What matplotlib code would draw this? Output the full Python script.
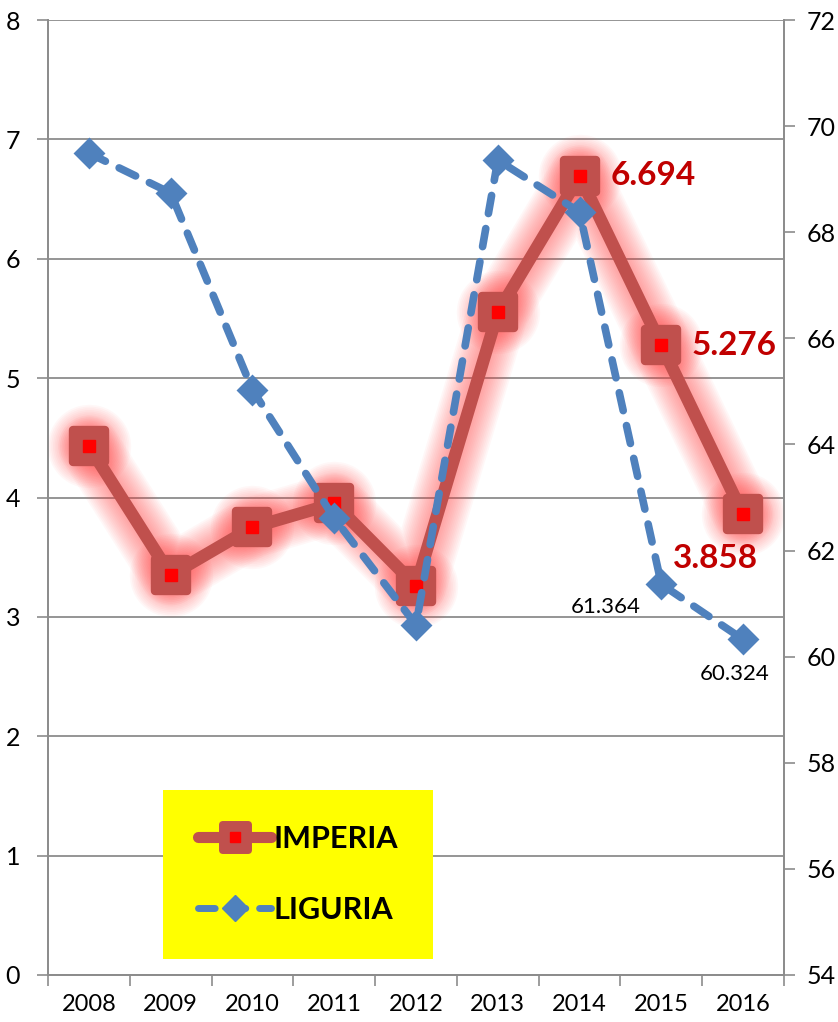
import matplotlib
import numpy as np

matplotlib.use("Agg")
import matplotlib.pyplot as plt
from matplotlib.legend_handler import HandlerTuple
from matplotlib.lines import Line2D
from matplotlib.markers import MarkerStyle

years = ["2008", "2009", "2010", "2011", "2012", "2013", "2014", "2015", "2016"]
imperia = [4.43, 3.35, 3.75, 3.95, 3.26, 5.55, 6.694, 5.276, 3.858]
liguria = [69.49, 68.74, 65.03, 62.61, 60.6, 69.36, 68.38, 61.364, 60.324]

RED_DARK = "#C0504D"
RED = "#FF0000"
BLUE = "#4F81BD"
GRID = "#8C8C8C"

plt.rcParams["font.family"] = ["Lato", "DejaVu Sans"]


def main() -> None:
    x = np.arange(len(years))
    fig = plt.figure(figsize=(8.38, 10.22), dpi=100)
    ax = fig.add_axes([0.0573, 0.046, 0.8783, 0.9344])
    ax2 = ax.twinx()

    sq_round = MarkerStyle("s", joinstyle="round")

    # soft glow around the IMPERIA series
    for lw in np.linspace(44, 12, 14):
        ax.plot(x, imperia, color="#FF4040", lw=lw, alpha=0.04, solid_capstyle="round",
                solid_joinstyle="round", marker="o", ms=lw + 16, mew=0, zorder=2)

    ax.plot(x, imperia, color=RED_DARK, lw=9, solid_joinstyle="round",
            solid_capstyle="round", zorder=3)
    ax.plot(x, imperia, ls="none", marker=sq_round, ms=23, mfc=RED_DARK,
            mec=RED_DARK, mew=6, zorder=4)
    ax.plot(x, imperia, ls="none", marker="s", ms=9, mfc=RED, mec=RED, zorder=5)

    ax2.plot(x, liguria, color=BLUE, lw=5.5, dashes=(2.4, 2.0),
             dash_capstyle="round", marker="D", ms=14, mfc=BLUE, mec=BLUE,
             mew=2, zorder=5)

    ax.set_xlim(-0.5, len(years) - 0.5)
    ax.set_ylim(0, 8)
    ax2.set_ylim(54, 72)

    ax.set_xticks(np.arange(-0.5, len(years)))
    ax.set_xticklabels([])
    ax.set_xticks(x, minor=True)
    ax.set_xticklabels(years, minor=True, fontsize=17,
                       family=["Liberation Sans Narrow", "Lato"])
    ax.tick_params(axis="x", which="major", length=8, width=1.2, color=GRID)
    ax.tick_params(axis="x", which="minor", length=0, pad=14)

    ax.set_yticks(range(0, 9))
    ax.tick_params(axis="y", length=8, width=1.2, color=GRID, labelsize=18, pad=12)
    ax2.set_yticks(range(54, 73, 2))
    ax2.tick_params(axis="y", length=8, width=1.2, color=GRID, labelsize=18, pad=8)

    ax.grid(True, axis="y", color=GRID, lw=1.3, zorder=0)
    ax.set_axisbelow(True)
    for a in (ax, ax2):
        a.spines["top"].set_visible(False)
        for s in ("left", "right", "bottom"):
            a.spines[s].set_color(GRID)
            a.spines[s].set_linewidth(1.3)

    # data labels
    lab = dict(color="#C00000", fontsize=24, fontweight="bold")
    ax.annotate("6.694", (6, imperia[6]), xytext=(22, 0), textcoords="offset points",
                ha="left", va="center", **lab)
    ax.annotate("5.276", (7, imperia[7]), xytext=(22, 0), textcoords="offset points",
                ha="left", va="center", **lab)
    ax.annotate("3.858", (8, imperia[8]), xytext=(-20, -32), textcoords="offset points",
                ha="center", va="center", **lab)
    ax2.annotate("61.364", (7, liguria[7]), xytext=(-40, -16), textcoords="offset points",
                 ha="center", va="center", fontsize=16)
    ax2.annotate("60.324", (8, liguria[8]), xytext=(-6, -25), textcoords="offset points",
                 ha="center", va="center", fontsize=16)

    imp_handle = (
        Line2D([], [], color=RED_DARK, lw=8, solid_capstyle="round",
               marker=sq_round, ms=19, mfc=RED_DARK, mec=RED_DARK, mew=5),
        Line2D([], [], ls="none", marker="s", ms=7, mfc=RED, mec=RED),
    )
    lig_handle = Line2D([], [], color=BLUE, lw=5, dashes=(2.4, 2.0), dash_capstyle="round",
                        marker="D", ms=13, mfc=BLUE, mec=BLUE)
    leg = ax2.legend([imp_handle, lig_handle], ["IMPERIA", "LIGURIA"], loc="upper left",
                     bbox_to_anchor=(163 / 838, 1 - 790 / 1022), bbox_transform=fig.transFigure,
                     handler_map={tuple: HandlerTuple(ndivide=1, pad=0)},
                     prop={"weight": "bold", "size": 22}, facecolor="#FFFF00",
                     edgecolor="none", framealpha=1, fancybox=False,
                     handlelength=2.4, handletextpad=0.05, labelspacing=1.4,
                     borderpad=1.15, borderaxespad=0)
    leg.set_zorder(10)

    fig.savefig("out.png", dpi=100)
    plt.close(fig)


if __name__ == "__main__":
    main()
